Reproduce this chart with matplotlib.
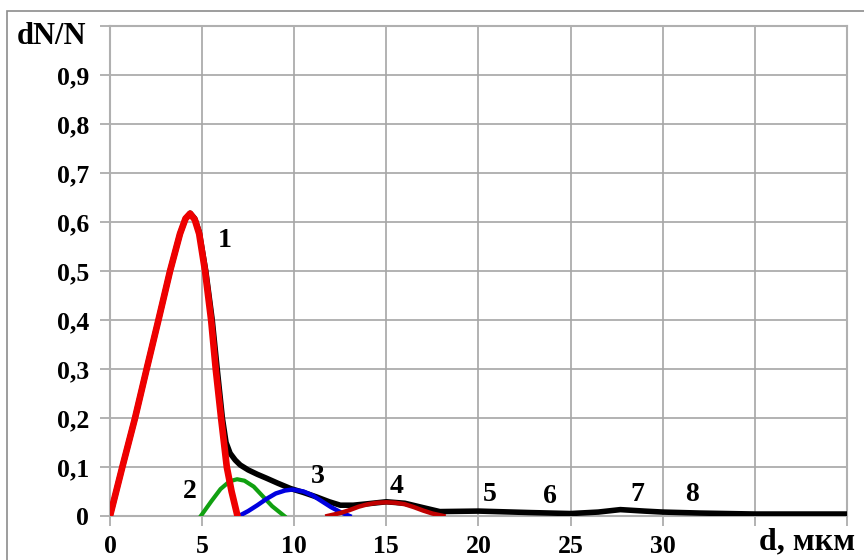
import matplotlib.pyplot as plt
from matplotlib.patches import Rectangle

plt.rcParams['font.family'] = ['Liberation Serif', 'DejaVu Serif']
plt.rcParams['font.weight'] = 'bold'

# суммарное распределение
d_sum = [0, 0.67, 1.36, 1.99, 2.63, 3.26, 3.8, 4.1, 4.35, 4.6, 4.84, 5.2, 5.55,
         5.82, 6.1, 6.3, 6.52, 6.8, 7.07, 7.5, 8.0, 8.5, 9.1, 9.8, 10.5, 11.2,
         11.9, 12.5, 13.2, 14.0, 15.0, 16.0, 17.0, 17.9, 20.0, 22.8, 25.0, 26.5,
         27.7, 29.0, 30.0, 32.0, 35.0, 40.0]
n_sum = [0, 0.1, 0.2, 0.3, 0.4, 0.5, 0.576, 0.607, 0.618, 0.607, 0.58, 0.5, 0.4,
         0.3, 0.2, 0.15, 0.128, 0.114, 0.104, 0.094, 0.085, 0.077, 0.067, 0.056,
         0.048, 0.039, 0.029, 0.022, 0.022, 0.025, 0.029, 0.026, 0.017, 0.009,
         0.01, 0.007, 0.005, 0.008, 0.013, 0.01, 0.008, 0.006, 0.004, 0.004]

# мода 1
d1 = [0, 0.67, 1.36, 1.99, 2.63, 3.26, 3.8, 4.1, 4.35, 4.6, 4.84, 5.16, 5.49,
      5.74, 6.03, 6.34, 6.6, 6.92]
n1 = [0, 0.1, 0.2, 0.3, 0.4, 0.5, 0.576, 0.607, 0.617, 0.605, 0.576, 0.5, 0.4,
      0.3, 0.2, 0.1, 0.05, 0]

# мода 2
d2 = [4.93, 5.5, 6.0, 6.5, 6.9, 7.3, 7.8, 8.3, 8.8, 9.46]
n2 = [0, 0.03, 0.055, 0.071, 0.075, 0.072, 0.06, 0.04, 0.02, 0]

# мода 3
d3 = [7.0, 7.5, 8.0, 8.5, 9.0, 9.5, 9.9, 10.5, 11.0, 11.5, 12.0, 12.5, 13.0]
n3 = [0, 0.01, 0.022, 0.035, 0.046, 0.052, 0.054, 0.05, 0.042, 0.03, 0.018, 0.008, 0]

# мода 4
d4 = [11.8, 12.5, 13.0, 13.5, 14.0, 14.5, 15.0, 15.5, 16.0, 16.5, 17.0, 17.5, 18.1]
n4 = [0, 0.006, 0.012, 0.019, 0.024, 0.027, 0.028, 0.027, 0.024, 0.018, 0.011, 0.005, 0]

# номера мод
mode_labels = ['1', '2', '3', '4', '5', '6', '7', '8']
label_d = [6.25, 4.35, 11.3, 15.55, 20.6, 23.9, 28.6, 31.6]
label_n = [0.562, 0.049, 0.081, 0.061, 0.043, 0.039, 0.043, 0.043]

x_ticks = [0, 5, 10, 15, 20, 25, 30, 35, 40]
x_ticklabels = ['0', '5', '10', '15', '20', '25', '30', '', '']
y_ticks = [0, 0.1, 0.2, 0.3, 0.4, 0.5, 0.6, 0.7, 0.8, 0.9, 1.0]
y_ticklabels = ['0', '0,1', '0,2', '0,3', '0,4', '0,5', '0,6', '0,7', '0,8', '0,9', '']

fig = plt.figure(figsize=(8.64, 5.6), dpi=100)
ax = fig.add_axes([0.1273, 0.0786, 0.8530, 0.875])

# рамка вокруг рисунка
fig.patches.append(Rectangle((7 / 864, -0.1), 1.2, 1 - 11 / 560 + 0.1,
                             transform=fig.transFigure, fill=False,
                             edgecolor='#8c8c8c', linewidth=1.2))

ax.plot(d_sum, n_sum, color='black', linewidth=4.0, solid_joinstyle='round',
        solid_capstyle='round', zorder=3)
ax.plot(d2, n2, color='#11a011', linewidth=3.0, solid_joinstyle='round', zorder=4)
ax.plot(d3, n3, color='#0000e0', linewidth=3.2, solid_joinstyle='round', zorder=4)
ax.plot(d4, n4, color='#c00000', linewidth=3.2, solid_joinstyle='round', zorder=4)
ax.plot(d1, n1, color='#ee0000', linewidth=4.8, solid_joinstyle='round',
        solid_capstyle='round', zorder=5)

for t, xx, yy in zip(mode_labels, label_d, label_n):
    ax.text(xx, yy, t, fontsize=20, fontweight='bold', ha='center', va='center', zorder=6)

ax.set_xlim(0, 40)
ax.set_ylim(0, 1.0)
ax.set_xticks(x_ticks)
ax.set_xticklabels(x_ticklabels)
ax.set_yticks(y_ticks)
ax.set_yticklabels(y_ticklabels)
ax.tick_params(axis='both', labelsize=18.5, length=7, color='#a6a6a6', width=1.2)
ax.tick_params(axis='y', pad=8)
ax.tick_params(axis='x', pad=7)
for lbl in ax.get_xticklabels() + ax.get_yticklabels():
    lbl.set_fontweight('bold')

ax.grid(True, color='#a6a6a6', linewidth=1.2)
ax.set_axisbelow(True)
for sp in ax.spines.values():
    sp.set_color('#b0b0b0')
    sp.set_linewidth(1.5)

# подписи осей
fig.text(52 / 864, 1 - 37 / 560, 'dN/N', fontsize=22, fontweight='bold',
         ha='center', va='center')
fig.text(807 / 864, 1 - 549 / 560, 'd, мкм', fontsize=23, fontweight='bold',
         ha='center', va='baseline')

fig.savefig('out.png', dpi=100)
